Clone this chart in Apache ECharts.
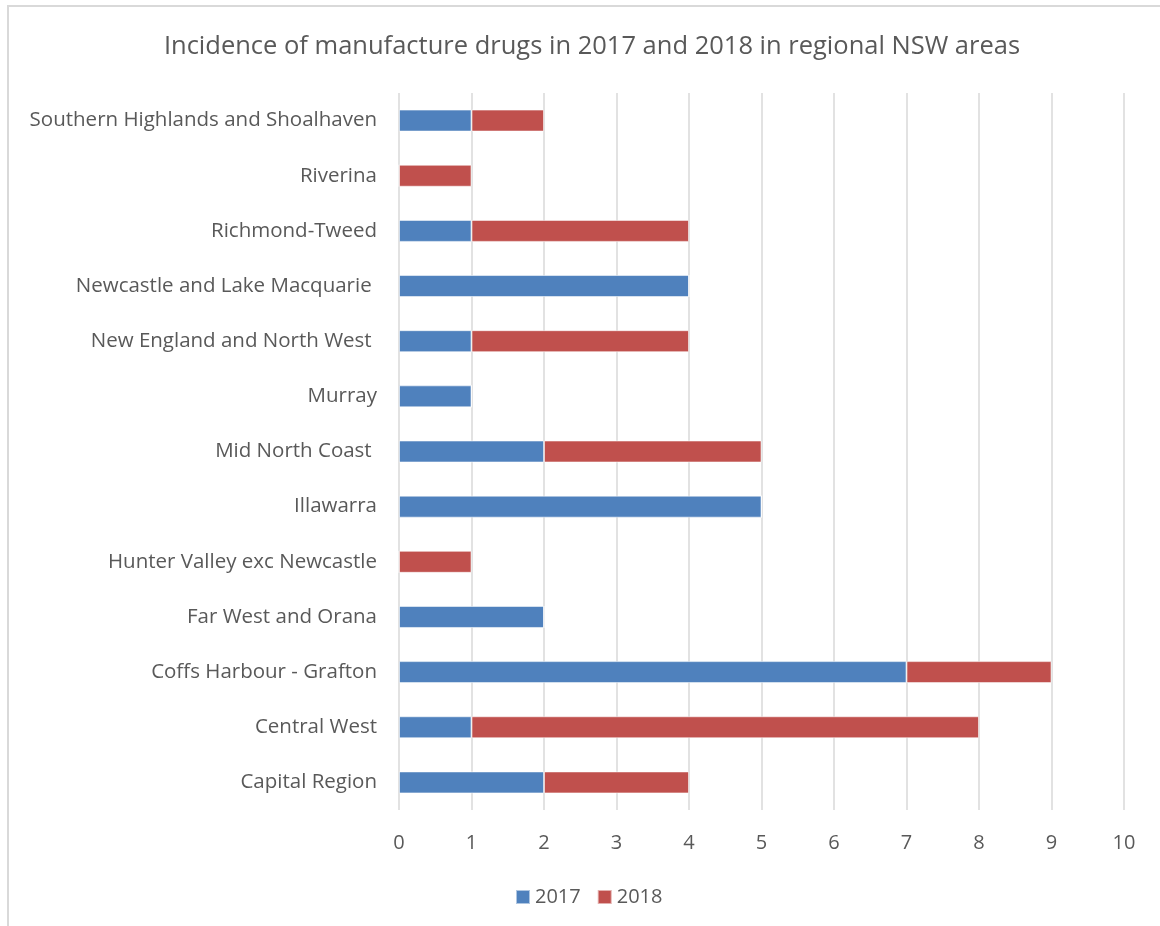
<!DOCTYPE html>
<html>
<head>
<meta charset="utf-8">
<style>
  html, body { margin: 0; padding: 0; background: #fff; }
  #chart { width: 1160px; height: 926px; }
</style>
<script src="https://cdn.jsdelivr.net/npm/echarts@6/dist/echarts.min.js"></script>
</head>
<body>
<div id="chart"></div>
<script>
// Regions listed bottom-to-top as they appear on the category axis
const regions = [
  'Capital Region',
  'Central West',
  'Coffs Harbour - Grafton',
  'Far West and Orana',
  'Hunter Valley exc Newcastle',
  'Illawarra',
  'Mid North Coast ',
  'Murray',
  'New England and North West ',
  'Newcastle and Lake Macquarie ',
  'Richmond-Tweed',
  'Riverina',
  'Southern Highlands and Shoalhaven'
];
const cases2017 = [2, 1, 7, 2, 0, 5, 2, 1, 1, 4, 1, 0, 1];
const cases2018 = [2, 7, 2, 0, 1, 0, 3, 0, 3, 0, 3, 1, 1];
const valueTicks = [0, 10, 1]; // min, max, step

const FONT = '"Open Sans", "Noto Sans", sans-serif';
const TEXT = '#595959';

const chart = echarts.init(document.getElementById('chart'), null, { renderer: 'canvas' });

const barStyle = (color) => ({
  color: color,
  borderColor: 'rgba(255,255,255,0.55)',
  borderWidth: 1
});

chart.setOption({
  animation: false,
  backgroundColor: '#ffffff',
  title: {
    text: 'Incidence of manufacture drugs in 2017 and 2018 in regional NSW areas',
    left: 587,
    textAlign: 'center',
    top: 29,
    textStyle: { fontFamily: FONT, fontSize: 25.5, fontWeight: 'normal', color: TEXT }
  },
  legend: {
    data: ['2017', '2018'],
    left: 515,
    top: 887,
    padding: 0,
    itemWidth: 14,
    itemHeight: 14,
    itemGap: 16,
    icon: 'rect',
    textStyle: { fontFamily: FONT, fontSize: 20, color: TEXT }
  },
  grid: { left: 399, right: 36, top: 93, bottom: 116, containLabel: false },
  xAxis: {
    type: 'value',
    min: valueTicks[0],
    max: valueTicks[1],
    interval: valueTicks[2],
    axisLine: { show: false },
    axisTick: { show: false },
    splitLine: { show: true, lineStyle: { color: '#d9d9d9', width: 1.5 } },
    axisLabel: { fontFamily: FONT, fontSize: 20, color: TEXT, margin: 23 }
  },
  yAxis: {
    type: 'category',
    data: regions,
    axisLine: { show: false },
    axisTick: { show: false },
    axisLabel: { fontFamily: FONT, fontSize: 20.5, color: TEXT, margin: 22, interval: 0, padding: [4, 0, 0, 0] }
  },
  series: [
    {
      name: '2017',
      type: 'bar',
      stack: 'total',
      barWidth: 22,
      data: cases2017,
      itemStyle: barStyle('#4f81bd')
    },
    {
      name: '2018',
      type: 'bar',
      stack: 'total',
      barWidth: 22,
      data: cases2018,
      itemStyle: barStyle('#c0504d')
    }
  ],
  graphic: [
    {
      type: 'polyline',
      silent: true,
      shape: { points: [[8, 926], [8, 6], [1160, 6]] },
      style: { stroke: '#d9d9d9', lineWidth: 2, fill: null }
    }
  ]
});
</script>
</body>
</html>
